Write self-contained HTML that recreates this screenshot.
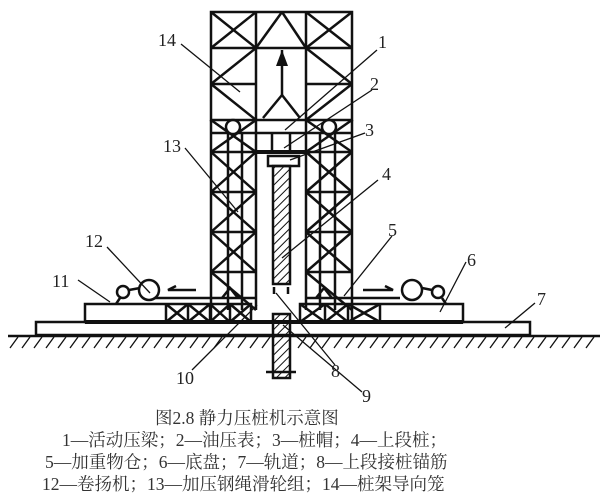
<!DOCTYPE html><html><head><style>body{margin:0;background:#fff}svg{display:block}</style></head><body>
<svg width="600" height="504" viewBox="0 0 600 504" xmlns="http://www.w3.org/2000/svg" font-family="Liberation Serif, Noto Serif CJK SC, serif">
<defs>
<pattern id="h" width="6" height="6" patternUnits="userSpaceOnUse" patternTransform="rotate(45)"><line x1="0" y1="0" x2="0" y2="6" stroke="#111" stroke-width="2"/></pattern>
</defs>
<g stroke="#111" stroke-width="2.5" fill="none">
<rect x="211" y="12" width="141" height="108"/>
<line x1="256" y1="12" x2="256" y2="310"/><line x1="306" y1="12" x2="306" y2="310"/>
<line x1="211" y1="48" x2="352" y2="48"/><line x1="211" y1="84" x2="256" y2="84"/><line x1="306" y1="84" x2="352" y2="84"/>
<line x1="211" y1="12" x2="256" y2="48"/><line x1="256" y1="12" x2="211" y2="48"/><line x1="306" y1="12" x2="352" y2="48"/><line x1="352" y1="12" x2="306" y2="48"/>
<line x1="256" y1="48" x2="211" y2="84"/><line x1="211" y1="84" x2="256" y2="120"/><line x1="306" y1="48" x2="352" y2="84"/><line x1="352" y1="84" x2="306" y2="120"/>
<line x1="256" y1="48" x2="282" y2="12"/><line x1="282" y1="12" x2="306" y2="48"/>
<line x1="263" y1="118" x2="282" y2="95"/><line x1="282" y1="95" x2="300" y2="118"/><line x1="282" y1="50" x2="282" y2="95"/>
<line x1="211" y1="120" x2="211" y2="320"/><line x1="352" y1="120" x2="352" y2="320"/>
<line x1="228" y1="133" x2="228" y2="310"/><line x1="242" y1="133" x2="242" y2="310"/>
<line x1="320" y1="133" x2="320" y2="310"/><line x1="335" y1="133" x2="335" y2="310"/>
<line x1="211" y1="133" x2="352" y2="133"/>
<line x1="211" y1="152" x2="256" y2="152"/><line x1="306" y1="152" x2="352" y2="152"/>
<line x1="211" y1="192" x2="256" y2="192"/><line x1="306" y1="192" x2="352" y2="192"/>
<line x1="211" y1="232" x2="256" y2="232"/><line x1="306" y1="232" x2="352" y2="232"/>
<line x1="211" y1="272" x2="256" y2="272"/><line x1="306" y1="272" x2="352" y2="272"/>
<line x1="211" y1="120" x2="256" y2="152"/><line x1="256" y1="120" x2="211" y2="152"/><line x1="306" y1="120" x2="352" y2="152"/><line x1="352" y1="120" x2="306" y2="152"/>
<line x1="211" y1="152" x2="256" y2="192"/><line x1="256" y1="152" x2="211" y2="192"/><line x1="306" y1="152" x2="352" y2="192"/><line x1="352" y1="152" x2="306" y2="192"/>
<line x1="211" y1="192" x2="256" y2="232"/><line x1="256" y1="192" x2="211" y2="232"/><line x1="306" y1="192" x2="352" y2="232"/><line x1="352" y1="192" x2="306" y2="232"/>
<line x1="211" y1="232" x2="256" y2="272"/><line x1="256" y1="232" x2="211" y2="272"/><line x1="306" y1="232" x2="352" y2="272"/><line x1="352" y1="232" x2="306" y2="272"/>
<line x1="211" y1="272" x2="256" y2="310"/><line x1="306" y1="272" x2="352" y2="310"/>
<circle cx="233" cy="127" r="7" fill="#fff"/><circle cx="329" cy="127" r="7" fill="#fff"/>
<line x1="256" y1="152" x2="306" y2="152" stroke-width="4"/>
<line x1="272" y1="133" x2="272" y2="152"/><line x1="290" y1="133" x2="290" y2="152"/>
<rect x="268" y="156" width="31" height="10"/>
<rect x="273" y="166" width="17" height="118" fill="url(#h)"/>
<rect x="273" y="314" width="17" height="64" fill="url(#h)"/>
<line x1="266" y1="372" x2="296" y2="372"/>
<line x1="274" y1="287" x2="274" y2="294"/><line x1="288" y1="287" x2="288" y2="294"/>
<rect x="85" y="304" width="166" height="18"/><rect x="300" y="304" width="163" height="18"/>
<line x1="166" y1="304" x2="166" y2="322"/><line x1="380" y1="304" x2="380" y2="322"/>
<line x1="188" y1="304" x2="188" y2="322"/><line x1="210" y1="304" x2="210" y2="322"/><line x1="230" y1="304" x2="230" y2="322"/>
<line x1="325" y1="304" x2="325" y2="322"/><line x1="348" y1="304" x2="348" y2="322"/>
<path d="M166 304L188 322M188 304L166 322M188 304L210 322M210 304L188 322M210 304L230 322M230 304L210 322M230 304L251 322M251 304L230 322"/>
<path d="M300 304L325 322M325 304L300 322M325 304L348 322M348 304L325 322M348 304L380 322M380 304L348 322"/>
<line x1="85" y1="322" x2="463" y2="322" stroke-width="4"/>
<line x1="155" y1="298" x2="256" y2="298"/><line x1="306" y1="298" x2="400" y2="298"/>
<path d="M222 298L230 288L238 298M316 298L324 288L332 298"/>
<rect x="36" y="322" width="494" height="13"/>
<line x1="8" y1="336" x2="600" y2="336"/>
<circle cx="123" cy="292" r="6"/><circle cx="149" cy="290" r="10"/><line x1="129" y1="290" x2="140" y2="288"/>
<circle cx="412" cy="290" r="10"/><circle cx="438" cy="292" r="6"/><line x1="422" y1="288" x2="432" y2="290"/>
<line x1="120" y1="298" x2="116" y2="304"/><line x1="442" y1="298" x2="446" y2="304"/>
<path d="M196 290H168L176 286"/><path d="M363 290H393L385 286"/>
</g>
<path d="M282 50L276 66H288Z" fill="#111"/>
<g stroke="#111" stroke-width="1.3">
<line x1="181" y1="44" x2="240" y2="92"/><line x1="377" y1="50" x2="285" y2="130"/><line x1="372" y1="90" x2="284" y2="148"/>
<line x1="365" y1="133" x2="290" y2="160"/><line x1="378" y1="180" x2="282" y2="258"/><line x1="392" y1="236" x2="344" y2="296"/>
<line x1="466" y1="262" x2="440" y2="312"/><line x1="535" y1="303" x2="505" y2="328"/><line x1="335" y1="365" x2="276" y2="293"/>
<line x1="362" y1="392" x2="283" y2="325"/><line x1="192" y1="370" x2="257" y2="305"/><line x1="78" y1="280" x2="110" y2="302"/>
<line x1="107" y1="247" x2="150" y2="293"/><line x1="185" y1="148" x2="238" y2="212"/>
</g>
<g stroke="#111" stroke-width="1.3">
<path d="M10 348L18 337M22 348L30 337M34 348L42 337M46 348L54 337M58 348L66 337M70 348L78 337M82 348L90 337M94 348L102 337M106 348L114 337M118 348L126 337M130 348L138 337M142 348L150 337M154 348L162 337M166 348L174 337M178 348L186 337M190 348L198 337M202 348L210 337M214 348L222 337M226 348L234 337M238 348L246 337M250 348L258 337M262 348L270 337M298 348L306 337M310 348L318 337M322 348L330 337M334 348L342 337M346 348L354 337M358 348L366 337M370 348L378 337M382 348L390 337M394 348L402 337M406 348L414 337M418 348L426 337M430 348L438 337M442 348L450 337M454 348L462 337M466 348L474 337M478 348L486 337M490 348L498 337M502 348L510 337M514 348L522 337M526 348L534 337M538 348L546 337M550 348L558 337M562 348L570 337M574 348L582 337M586 348L594 337"/>
</g>
<g font-size="18" fill="#222">
<text x="158" y="46">14</text><text x="378" y="48">1</text><text x="370" y="90">2</text><text x="365" y="136">3</text>
<text x="382" y="180">4</text><text x="388" y="236">5</text><text x="467" y="266">6</text><text x="537" y="305">7</text>
<text x="331" y="377">8</text><text x="362" y="402">9</text><text x="176" y="384">10</text><text x="52" y="287">11</text>
<text x="85" y="247">12</text><text x="163" y="152">13</text>
</g>
<g font-size="17.5" fill="#333">
<text x="155" y="424">图2.8 静力压桩机示意图</text>
<text x="62" y="446">1—活动压梁；2—油压表；3—桩帽；4—上段桩；</text>
<text x="45" y="468">5—加重物仓；6—底盘；7—轨道；8—上段接桩锚筋</text>
<text x="42" y="490">12—卷扬机；13—加压钢绳滑轮组；14—桩架导向笼</text>
</g>
</svg>
</body></html>
